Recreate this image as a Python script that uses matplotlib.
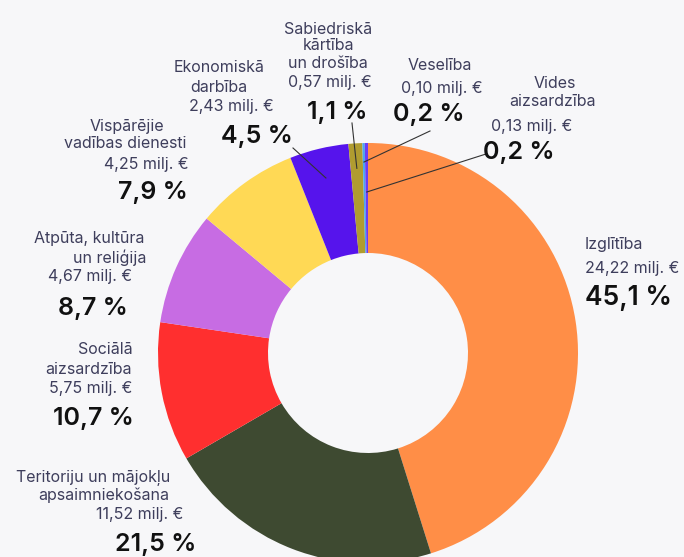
import matplotlib
matplotlib.use("Agg")
import matplotlib.pyplot as plt
import numpy as np

# ---- data ----
categories = [
    "Izglītība",
    "Teritoriju un mājokļu\napsaimniekošana",
    "Sociālā\naizsardzība",
    "Atpūta, kultūra\nun reliģija",
    "Vispārējie\nvadības dienesti",
    "Ekonomiskā\ndarbība",
    "Sabiedriskā\nkārtība\nun drošība",
    "Veselība",
    "Vides\naizsardzība",
]
values = [24.22, 11.52, 5.75, 4.67, 4.25, 2.43, 0.57, 0.10, 0.13]   # milj. €
percent_labels = ["45,1 %", "21,5 %", "10,7 %", "8,7 %", "7,9 %", "4,5 %", "1,1 %", "0,2 %", "0,2 %"]
colors = ["#FF8E47", "#3E4A31", "#FF2F2F", "#C76CE3", "#FFD955",
          "#5614EC", "#B09C30", "#4BA6F0", "#6B3CF4"]

# ---- layout (pixel coordinates, y from top) ----
W, H = 684, 557
CX, CY, R, RIN = 368, 353, 210, 100
BG = "#F7F7F9"
NAME_C = "#3E3E5C"

# per-line text positions: (x, y) for name lines..., value line, percent line
layout = {
    0: dict(ha="left", pos=[(585, 245), (585, 269), (585, 298)]),
    1: dict(ha="center", pos=[(93, 477), (104, 495), (140, 515), (156, 545)]),
    2: dict(ha="center", pos=[(105, 350), (88, 369), (91, 388), (93, 418)]),
    3: dict(ha="center", pos=[(89, 238), (110, 258), (90, 277), (93, 309)]),
    4: dict(ha="center", pos=[(127, 126), (125, 144), (146, 164), (153, 193)]),
    5: dict(ha="center", pos=[(219, 68), (219, 87), (231, 107), (257, 137)]),
    6: dict(ha="center", pos=[(328, 29), (328, 46), (328, 63), (330, 82), (337, 113)]),
    7: dict(ha="center", pos=[(440, 65), (442, 88), (429, 115)]),
    8: dict(ha="center", pos=[(555, 83), (553, 102), (532, 127), (519, 153)]),
}
pct_size = {0: 19}
# leader lines: start point (px) and radius (px) at wedge mid-angle for the end
leaders = {5: ((293, 148), 180), 6: ((352, 123), 185), 7: ((430, 131), 191), 8: ((486, 154), 161)}

plt.rcParams["font.family"] = ["Inter", "DejaVu Sans"]
fig = plt.figure(figsize=(W / 100, H / 100), dpi=100, facecolor=BG)
ax = fig.add_axes([0, 0, 1, 1])
ax.set_facecolor(BG)

def Y(y):
    return H - y

wedges, _ = ax.pie(values, colors=colors, startangle=90, counterclock=False,
                   center=(CX, Y(CY)), radius=R,
                   wedgeprops=dict(width=R - RIN, linewidth=0), frame=True)
ax.set_xlim(0, W)
ax.set_ylim(0, H)
ax.set_aspect("equal")
ax.axis("off")

for i, name in enumerate(categories):
    lines = name.split("\n")
    val = f"{values[i]:.2f}".replace(".", ",") + " milj. €"
    L = layout[i]
    texts = lines + [val]
    for t, (x, y) in zip(texts, L["pos"][:-1]):
        ax.text(x, Y(y), t, ha=L["ha"], va="center", fontsize=11.5, color=NAME_C)
    x, y = L["pos"][-1]
    ax.text(x, Y(y), percent_labels[i], ha=L["ha"], va="center",
            fontsize=pct_size.get(i, 18), color="#111111", fontweight="semibold")

for i, ((sx, sy), rr) in leaders.items():
    w = wedges[i]
    mid = np.deg2rad((w.theta1 + w.theta2) / 2)
    ex = CX + rr * np.cos(mid)
    ey = Y(CY) + rr * np.sin(mid)
    ax.plot([sx, ex], [Y(sy), ey], color="#333333", lw=0.8)

fig.savefig("out.png", dpi=100, facecolor=BG)
